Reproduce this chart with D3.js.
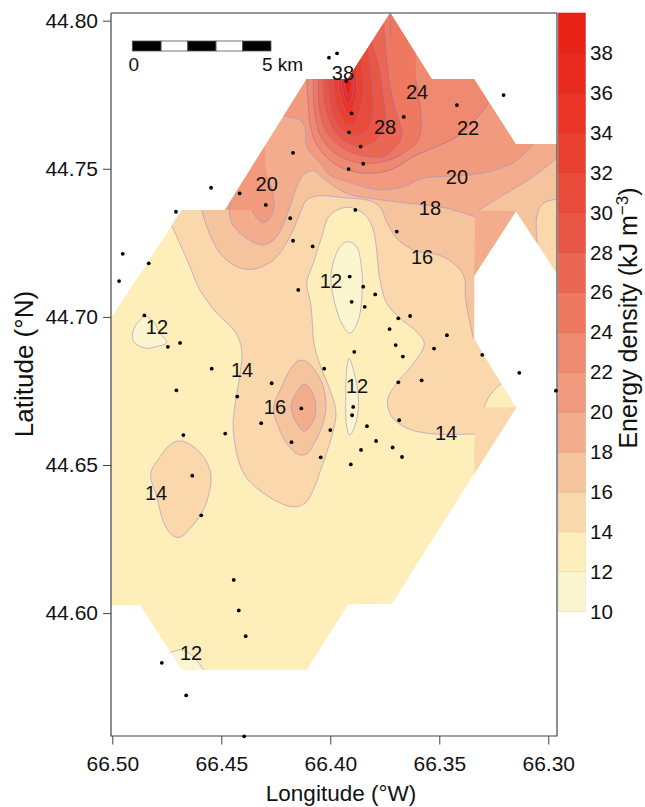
<!DOCTYPE html>
<html><head><meta charset="utf-8">
<script src="https://cdn.jsdelivr.net/npm/d3@7"></script>
<style>html,body{margin:0;padding:0;background:#fff}svg{display:block}text{font-family:"Liberation Sans",Arial,sans-serif;fill:#111}</style>
</head><body><svg id="c" width="645" height="807"></svg>
<script>
const legendLevels=[10,12,14,16,18,20,22,24,26,28,30,32,34,36,38,40];
const bandColors=["#fbf6cf","#fdeeba","#fad8ab","#f6c49c","#f3ac8c","#f29a7d","#ef8a70","#ee7860","#ec6753","#ea5645","#e94b3a","#e94030","#e93426","#e92a1e","#e92316"];
const lonTicks=[66.50,66.45,66.40,66.35,66.30];
const latTicks=[44.60,44.65,44.70,44.75,44.80];
const hull=[[66.5006,44.6996],[66.4682,44.7361],[66.4483,44.7361],[66.4108,44.7803],[66.3919,44.7803],[66.3725,44.8026],[66.3535,44.7803],[66.3341,44.7803],[66.3150,44.7584],[66.2960,44.7584],[66.2960,44.7145],[66.3148,44.7357],[66.3340,44.7138],[66.3340,44.6925],[66.3148,44.6692],[66.3718,44.6030],[66.3917,44.6029],[66.4108,44.5808],[66.4682,44.5808],[66.4873,44.6027],[66.5006,44.6027]];
const stations=[[66.4006,44.7875],[66.3969,44.7890],[66.3927,44.7796],[66.3902,44.7687],[66.3663,44.7675],[66.3419,44.7715],[66.3205,44.7749],[66.3914,44.7623],[66.3861,44.7575],[66.4171,44.7554],[66.3916,44.7499],[66.3849,44.7517],[66.4296,44.7378],[66.4184,44.7333],[66.3885,44.7361],[66.3695,44.7288],[66.4171,44.7257],[66.4081,44.7238],[66.4547,44.7436],[66.4416,44.7417],[66.4708,44.7355],[66.4952,44.7213],[66.4833,44.7181],[66.4969,44.7121],[66.4853,44.7005],[66.4745,44.6899],[66.4689,44.6912],[66.4147,44.7091],[66.3911,44.7136],[66.3849,44.7102],[66.3794,44.7076],[66.3902,44.7051],[66.3842,44.7034],[66.3688,44.6995],[66.3634,44.7003],[66.3728,44.6959],[66.3465,44.6938],[66.3524,44.6893],[66.3700,44.6905],[66.3667,44.6866],[66.3890,44.6882],[66.3303,44.6872],[66.3133,44.6811],[66.2965,44.6751],[66.4028,44.6825],[66.4544,44.6825],[66.4269,44.6776],[66.4706,44.6752],[66.4427,44.6731],[66.3688,44.6779],[66.3581,44.6786],[66.4133,44.6691],[66.3895,44.6696],[66.3900,44.6668],[66.4317,44.6641],[66.4000,44.6618],[66.3832,44.6631],[66.3684,44.6651],[66.4674,44.6601],[66.4482,44.6606],[66.4178,44.6577],[66.3790,44.6581],[66.3859,44.6551],[66.3714,44.6559],[66.3671,44.6527],[66.4044,44.6526],[66.3906,44.6502],[66.4633,44.6464],[66.4592,44.6330],[66.4443,44.6112],[66.4420,44.6009],[66.4388,44.5922],[66.4773,44.5832],[66.4661,44.5722],[66.4395,44.5584]];
const labelTexts=["38","24","28","22","20","20","18","16","12","12","14","12","16","14","14","12"];
const labelLons=[66.3942,66.3602,66.3749,66.3368,66.4292,66.3419,66.3543,66.3579,66.3997,66.4795,66.4405,66.3877,66.4254,66.3469,66.4799,66.4639];
const labelLats=[44.7824,44.7759,44.7641,44.7638,44.7451,44.7472,44.7368,44.7202,44.7121,44.6966,44.6821,44.6767,44.6696,44.6608,44.6406,44.5865];

const c12West=[[66.4865,44.6995],[66.4896,44.6967],[66.4908,44.6933],[66.4896,44.6911],[66.4842,44.6894],[66.4796,44.6900],[66.4750,44.6913],[66.4781,44.6945],[66.4812,44.6984],[66.4853,44.7004]];
const c12North=[[66.3917,44.7254],[66.3879,44.7237],[66.3856,44.7158],[66.3853,44.7102],[66.3871,44.6990],[66.3910,44.6945],[66.3948,44.6979],[66.3986,44.7068],[66.3997,44.7136],[66.3978,44.7203],[66.3948,44.7243]];
const c12South=[[66.3914,44.6860],[66.3894,44.6821],[66.3871,44.6731],[66.3879,44.6652],[66.3910,44.6601],[66.3925,44.6629],[66.3929,44.6731],[66.3925,44.6821]];
const c12Bottom=[[66.4732,44.5867],[66.4682,44.5876],[66.4628,44.5853],[66.4579,44.5806]];
const k12Bottom=[[66.4682,44.5808]];
const c14Tri=[[66.3294,44.6695],[66.3267,44.6736],[66.3214,44.6776]];
const k14Tri=[[66.3148,44.6695]];
const c14Main=[[66.4726,44.7307],[66.4651,44.7182],[66.4598,44.7091],[66.4521,44.7013],[66.4437,44.6950],[66.4406,44.6888],[66.4414,44.6811],[66.4442,44.6676],[66.4445,44.6618],[66.4422,44.6517],[66.4383,44.6456],[66.4307,44.6405],[66.4215,44.6367],[66.4162,44.6359],[66.4116,44.6371],[66.4085,44.6405],[66.4039,44.6494],[66.3986,44.6618],[66.3974,44.6680],[66.4001,44.6753],[66.4047,44.6838],[66.4075,44.6911],[66.4081,44.6967],[66.4090,44.7046],[66.4108,44.7114],[66.4078,44.7181],[66.4039,44.7271],[66.4001,44.7344],[66.3917,44.7370],[66.3841,44.7344],[66.3803,44.7294],[66.3772,44.7125],[66.3741,44.7046],[66.3680,44.6995],[66.3604,44.6950],[66.3569,44.6909],[66.3619,44.6843],[66.3695,44.6776],[66.3737,44.6720],[66.3718,44.6663],[66.3649,44.6624],[66.3527,44.6605],[66.3339,44.6605]];
const k14Main=[[66.3340,44.6450],[66.29,44.6450],[66.29,44.81],[66.4827,44.81],[66.4827,44.7395]];
const c14Island=[[66.4727,44.6573],[66.4682,44.6581],[66.4628,44.6562],[66.4582,44.6528],[66.4552,44.6483],[66.4547,44.6450],[66.4560,44.6393],[66.4590,44.6337],[66.4643,44.6286],[66.4689,44.6256],[66.4727,44.6264],[66.4766,44.6309],[66.4796,44.6393],[66.4824,44.6470],[66.4781,44.6528]];
const c16Main=[[66.4590,44.7361],[66.4567,44.7305],[66.4506,44.7215],[66.4429,44.7170],[66.4353,44.7161],[66.4261,44.7192],[66.4185,44.7271],[66.4139,44.7350],[66.4108,44.7395],[66.4055,44.7409],[66.3932,44.7402],[66.3818,44.7392],[66.3772,44.7371],[66.3741,44.7321],[66.3695,44.7265],[66.3619,44.7226],[66.3482,44.7203],[66.3390,44.7142],[66.3379,44.7057],[66.3344,44.6928]];
const k16a=[[66.3340,44.6925],[66.3050,44.7057]];
const c16Pocket=[[66.3050,44.7250],[66.3053,44.7338],[66.3023,44.7384],[66.2961,44.7397]];
const k16b=[[66.29,44.7397],[66.29,44.81],[66.4643,44.81],[66.4643,44.7361]];
const c16Centre=[[66.4147,44.6852],[66.4108,44.6849],[66.4062,44.6810],[66.4032,44.6764],[66.4020,44.6692],[66.4039,44.6629],[66.4078,44.6568],[66.4108,44.6537],[66.4147,44.6536],[66.4200,44.6573],[66.4238,44.6629],[66.4261,44.6692],[66.4223,44.6764],[66.4185,44.6821]];
const c18Centre=[[66.4121,44.6773],[66.4093,44.6759],[66.4070,44.6720],[66.4066,44.6692],[66.4073,44.6658],[66.4108,44.6618],[66.4124,44.6615],[66.4154,44.6641],[66.4180,44.6697],[66.4162,44.6736]];
const c18Main=[[66.4451,44.7405],[66.4462,44.7361],[66.4452,44.7316],[66.4383,44.7265],[66.4307,44.7243],[66.4246,44.7271],[66.4185,44.7372],[66.4162,44.7423],[66.4124,44.7479],[66.4078,44.7494],[66.4032,44.7468],[66.3925,44.7417],[66.3787,44.7397],[66.3573,44.7378],[66.3466,44.7367],[66.3336,44.7338]];
const k18a=[[66.3340,44.7138],[66.3148,44.7357]];
const c18East=[[66.3321,44.7359],[66.3199,44.7415],[66.3070,44.7473],[66.2961,44.7536]];
const k18b=[[66.29,44.7536],[66.29,44.81],[66.4598,44.81],[66.4598,44.7405]];
const c20Main=[[66.4212,44.7678],[66.4185,44.7674],[66.4139,44.7665],[66.4116,44.7637],[66.4108,44.7575],[66.4047,44.7519],[66.4001,44.7479],[66.3925,44.7457],[66.3772,44.7429],[66.3665,44.7440],[66.3573,44.7468],[66.3420,44.7476],[66.3299,44.7486],[66.3162,44.7520],[66.3070,44.7580]];
const k20Main=[[66.3070,44.81],[66.4322,44.81],[66.4322,44.7678]];
const c20Lobe=[[66.4360,44.7361],[66.4337,44.7333],[66.4307,44.7318],[66.4277,44.7334],[66.4258,44.7371],[66.4265,44.7422],[66.4286,44.7469]];
const k20Lobe=[[66.4299,44.7513],[66.4299,44.7732],[66.4598,44.7732],[66.4598,44.7361]];
const c22=[[66.4108,44.7803],[66.4101,44.7722],[66.4088,44.7631],[66.4047,44.7564],[66.3955,44.7506],[66.3833,44.7485],[66.3726,44.7496],[66.3604,44.7547],[66.3512,44.7575],[66.3420,44.7608],[66.3328,44.7671],[66.3275,44.7721]];
const k22=[[66.3275,44.81],[66.4108,44.81]];
const c24=[[66.4078,44.7803],[66.4075,44.7716],[66.4056,44.7631],[66.4010,44.7574],[66.3932,44.7533],[66.3832,44.7518],[66.3726,44.7530],[66.3657,44.7557],[66.3596,44.7597],[66.3584,44.7676],[66.3596,44.7744],[66.3608,44.7803]];
const k24=[[66.3608,44.81],[66.4078,44.81]];
const c26=[[66.4055,44.7803],[66.4052,44.7716],[66.4033,44.7648],[66.3988,44.7597],[66.3910,44.7557],[66.3809,44.7540],[66.3749,44.7543],[66.3688,44.7586],[66.3672,44.7620],[66.3714,44.7732],[66.3738,44.7845],[66.3754,44.7986]];
const k26=[[66.3754,44.81],[66.4055,44.81]];
const c28=[[66.4032,44.7803],[66.4029,44.7732],[66.4010,44.7672],[66.3978,44.7624],[66.3923,44.7587],[66.3841,44.7577],[66.3781,44.7604],[66.3749,44.7648],[66.3758,44.7749],[66.3779,44.7851],[66.3805,44.7918]];
const k28=[[66.3805,44.81],[66.4032,44.81]];
const c30=[[66.4009,44.7803],[66.4006,44.7749],[66.3992,44.7692],[66.3965,44.7648],[66.3923,44.7618],[66.3882,44.7611],[66.3836,44.7628],[66.3809,44.7672],[66.3804,44.7732],[66.3813,44.7817],[66.3828,44.7890]];
const k30=[[66.3828,44.81],[66.4009,44.81]];
const c32=[[66.3986,44.7803],[66.3983,44.7759],[66.3969,44.7705],[66.3942,44.7665],[66.3914,44.7648],[66.3887,44.7658],[66.3859,44.7705],[66.3845,44.7783],[66.3858,44.7851]];
const k32=[[66.3858,44.81],[66.3986,44.81]];
const c34=[[66.3963,44.7803],[66.3960,44.7766],[66.3946,44.7722],[66.3923,44.7689],[66.3905,44.7689],[66.3887,44.7722],[66.3877,44.7766],[66.3883,44.7817]];
const k34=[[66.3883,44.81],[66.3963,44.81]];
const c36=[[66.3951,44.7803],[66.3942,44.7759],[66.3923,44.7722],[66.3910,44.7722],[66.3896,44.7759],[66.3896,44.7800],[66.3903,44.7830]];
const k36=[[66.3903,44.81],[66.3951,44.81]];
const c38=[[66.3937,44.7803],[66.3928,44.7759],[66.3916,44.7744],[66.3905,44.7766],[66.3907,44.7807]];
const k38=[[66.3907,44.81],[66.3937,44.81]];
const apexStub=[[66.3725,44.8026],[66.3722,44.7946]];
const scaleBarKm=[0,1.04,2,3.02,3.98,5];

// [lower bound of the band, curve, corners, curve, corners ...]
const regions=[
 [14,c14Main,k14Main],[14,c14Island],[16,c16Main,k16a,c16Pocket,k16b],[16,c16Centre],
 [18,c18Main,k18a,c18East,k18b],[18,c18Centre],[20,c20Main,k20Main],[20,c20Lobe,k20Lobe],
 [22,c22,k22],[24,c24,k24],[26,c26,k26],[28,c28,k28],[30,c30,k30],[32,c32,k32],[34,c34,k34],[36,c36,k36],[38,c38,k38],
 [10,c12West],[10,c12North],[10,c12South],[10,c12Bottom,k12Bottom],[12,c14Tri,k14Tri]
];

const svg=d3.select("#c");
const x=d3.scaleLinear([66.5006,66.2960],[111,557]);
const y=d3.scaleLinear([44.5585,44.8026],[736,13]);
const colorOf=d3.scaleOrdinal(legendLevels.slice(0,15),bandColors);
const open=d3.line().x(d=>x(d[0])).y(d=>y(d[1])).curve(d3.curveCatmullRom.alpha(0.5));
const shut=d3.line().x(d=>x(d[0])).y(d=>y(d[1])).curve(d3.curveCatmullRomClosed.alpha(0.5));
const straight=d3.line().x(d=>x(d[0])).y(d=>y(d[1]));

svg.append("clipPath").attr("id","hullClip").append("path").attr("d",straight(hull)+"Z");
const map=svg.append("g").attr("clip-path","url(#hullClip)");
map.append("path").attr("d",straight(hull)+"Z").attr("fill",colorOf(12));

function regionPath(parts){
  if(parts.length===1) return shut(parts[0]);
  let d="";
  parts.forEach((p,i)=>{
    const s=i%2===0?open(p):straight(p);
    d+=i===0?s:"L"+s.slice(1);
  });
  return d+"Z";
}
regions.forEach(r=>{
  map.append("path").attr("d",regionPath(r.slice(1))).attr("fill",colorOf(r[0]));
});
const lineColor=l=>l>=22?"#a9689f":"#a892c8";
regions.forEach(r=>{
  const parts=r.slice(1);
  parts.forEach((p,i)=>{
    if(i%2===0) map.append("path").attr("d",parts.length===1?shut(p):open(p))
      .attr("fill","none").attr("stroke",lineColor(r[0])).attr("stroke-width",0.75).attr("stroke-opacity",0.85);
  });
});
map.append("path").attr("d",straight(apexStub)).attr("fill","none").attr("stroke",lineColor(24)).attr("stroke-width",0.75).attr("stroke-opacity",0.85);

// frame
svg.append("path").attr("d","M111,13H557").attr("fill","none").attr("stroke","#777").attr("stroke-width",1.5);
svg.append("path").attr("d","M557,13V736H111V13").attr("fill","none").attr("stroke","#444").attr("stroke-width",1.2);

// stations
svg.append("g").selectAll("circle").data(stations).join("circle")
  .attr("cx",d=>x(d[0])).attr("cy",d=>y(d[1])).attr("r",1.9).attr("fill","#000");

// contour labels
svg.append("g").selectAll("text").data(labelTexts).join("text")
  .attr("x",(d,i)=>x(labelLons[i])).attr("y",(d,i)=>y(labelLats[i])).attr("dy","0.36em")
  .attr("text-anchor","middle").attr("font-size",20).text(d=>d);

// axes
const gx=svg.append("g").attr("transform","translate(0,736)").call(d3.axisBottom(x).tickValues(lonTicks).tickFormat(d3.format(".2f")).tickSize(8.5).tickSizeOuter(0).tickPadding(12));
const gy=svg.append("g").attr("transform","translate(111,0)").call(d3.axisLeft(y).tickValues(latTicks).tickFormat(d3.format(".2f")).tickSize(8).tickSizeOuter(0).tickPadding(5));
[gx,gy].forEach(g=>{g.select(".domain").remove();
  g.selectAll(".tick line").attr("stroke","#444").attr("stroke-width",1);
  g.selectAll("text").attr("font-size",21).attr("font-family",'"Liberation Sans",Arial,sans-serif').attr("fill","#111");});

svg.append("text").attr("x",341).attr("y",801).attr("text-anchor","middle").attr("font-size",22.5).text("Longitude (°W)");
svg.append("text").attr("transform","translate(33,364) rotate(-90)").attr("text-anchor","middle").attr("font-size",26).text("Latitude (°N)");

// legend
const ly=d3.scaleLinear([10,40],[611.7,13]);
svg.append("g").selectAll("rect").data(legendLevels.slice(0,15)).join("rect")
  .attr("x",558.3).attr("width",27).attr("y",d=>ly(d+2)).attr("height",d=>ly(d)-ly(d+2))
  .attr("fill",d=>colorOf(d)).attr("stroke",d=>d3.color(colorOf(d)).darker(0.25)).attr("stroke-width",0.6);
const gl=svg.append("g").attr("transform","translate(585,0)").call(d3.axisRight(ly).tickValues(legendLevels.slice(0,15)).tickSize(0).tickPadding(5));
gl.select(".domain").remove();
gl.selectAll("text").attr("font-size",20.5).attr("font-family",'"Liberation Sans",Arial,sans-serif').attr("fill","#111");
const et=svg.append("text").attr("transform","translate(637,318) rotate(-90)").attr("text-anchor","middle").attr("font-size",25);
et.append("tspan").text("Energy density (kJ m");
et.append("tspan").attr("dy",-9).attr("font-size",17).text("−3");
et.append("tspan").attr("dy",9).text(")");

// scale bar
const sb=d3.scaleLinear([0,5],[132.3,271]);
svg.append("g").selectAll("rect").data(d3.pairs(scaleBarKm)).join("rect")
  .attr("x",d=>sb(d[0])).attr("width",d=>sb(d[1])-sb(d[0])).attr("y",41).attr("height",10)
  .attr("fill",(d,i)=>i%2?"#fff":"#000").attr("stroke","#555").attr("stroke-width",0.8);
svg.append("text").attr("x",sb(0)+1.5).attr("y",71).attr("text-anchor","middle").attr("font-size",19).text("0");
svg.append("text").attr("x",262).attr("y",71).attr("font-size",19).text("5 km");
</script></body></html>
